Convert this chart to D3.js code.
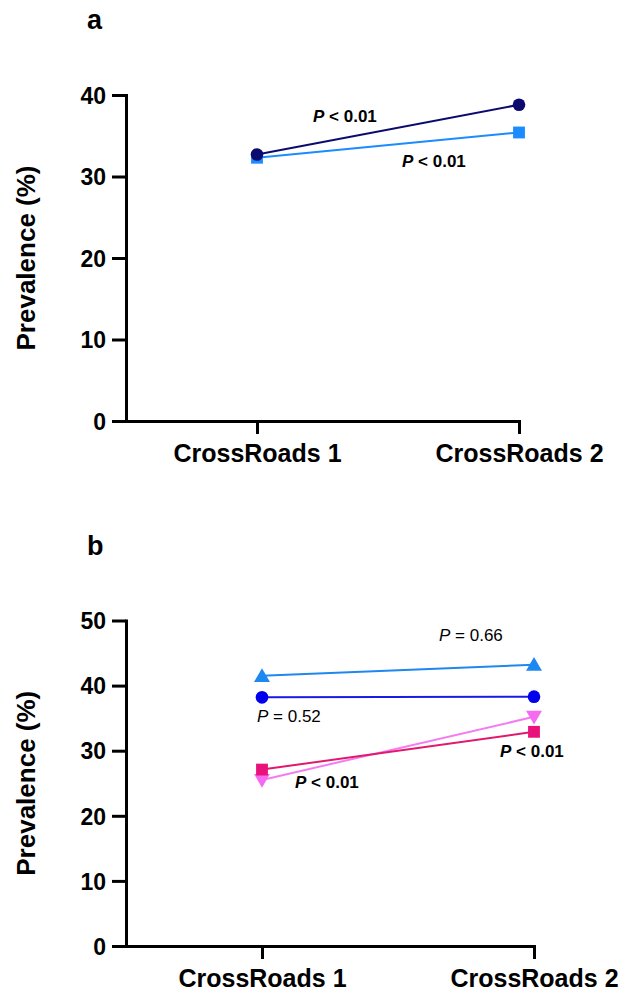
<!DOCTYPE html>
<html>
<head>
<meta charset="utf-8">
<script src="https://cdn.jsdelivr.net/npm/d3@7"></script>
<style>
  html, body { margin: 0; padding: 0; background: #fff; }
  svg { display: block; }
  text { font-family: "Liberation Sans", Arial, Helvetica, sans-serif; }
</style>
</head>
<body>
<svg id="chart" width="619" height="992"></svg>
<script>
// ---------- data ----------
const categories = ["CrossRoads 1", "CrossRoads 2"];
const panelLetters = ["a", "b"];
const yAxisTitle = "Prevalence (%)";

const ticksA = [0, 10, 20, 30, 40];
const seriesA_circle = [32.7, 38.8];   // dark navy, circles
const seriesA_square = [32.3, 35.4];   // light blue, squares
const annotA = [
  { p: "P", rest: " < 0.01", bold: true },
  { p: "P", rest: " < 0.01", bold: true }
];

const ticksB = [0, 10, 20, 30, 40, 50];
const seriesB_triangle = [41.5, 43.2]; // light blue, up triangles
const seriesB_circle   = [38.2, 38.3]; // blue, circles
const seriesB_square   = [27.1, 32.9]; // deep pink, squares
const seriesB_downTri  = [25.5, 35.2]; // violet, down triangles
const annotB = [
  { p: "P", rest: " = 0.66", bold: false },
  { p: "P", rest: " = 0.52", bold: false },
  { p: "P", rest: " < 0.01", bold: true },
  { p: "P", rest: " < 0.01", bold: true }
];

// ---------- drawing ----------
const svg = d3.select("#chart");

function drawPanel(cfg) {
  const g = svg.append("g");
  const x = d3.scaleLinear().domain([-0.5, 1]).range([cfg.left, cfg.right]);
  const y = d3.scaleLinear().domain([0, d3.max(cfg.ticks)]).range([cfg.bottom, cfg.top]);

  // y axis
  const ya = g.append("g").attr("transform", `translate(${cfg.left},0)`)
    .call(d3.axisLeft(y).tickValues(cfg.ticks).tickSize(14).tickSizeOuter(0).tickPadding(6));
  // x axis
  const xa = g.append("g").attr("transform", `translate(0,${cfg.bottom})`)
    .call(d3.axisBottom(x).tickValues([0, 1]).tickFormat(i => categories[i])
      .tickSize(13).tickSizeOuter(0).tickPadding(10));

  [ya, xa].forEach(a => {
    a.select(".domain").attr("stroke", "#000").attr("stroke-width", 3).attr("stroke-linecap", "square");
    a.selectAll(".tick line").attr("stroke", "#000").attr("stroke-width", 3);
    a.selectAll(".tick text").attr("fill", "#000").attr("font-weight", "bold")
      .attr("font-family", "'Liberation Sans', Arial, sans-serif");
  });
  ya.selectAll(".tick text").attr("font-size", 23).attr("dy", "0.36em");
  xa.selectAll(".tick text").attr("font-size", 25).attr("dy", "0.71em");

  // y title
  g.append("text")
    .attr("transform", `translate(35,${(cfg.top + cfg.bottom) / 2}) rotate(-90)`)
    .attr("text-anchor", "middle")
    .attr("font-size", 26).attr("font-weight", "bold").attr("fill", "#000")
    .text(yAxisTitle);

  // panel letter
  g.append("text").attr("x", 87).attr("y", cfg.letterY)
    .attr("font-size", 27).attr("font-weight", "bold").attr("fill", "#000")
    .text(cfg.letter);

  // series
  cfg.series.forEach(s => {
    const pts = s.values.map((v, i) => [x(i), y(v)]);
    g.append("path").attr("d", d3.line()(pts))
      .attr("fill", "none").attr("stroke", s.line).attr("stroke-width", 2);
    g.selectAll(null).data(pts).enter().append("path")
      .attr("d", d3.symbol().type(s.symbol).size(s.size)())
      .attr("transform", d => `translate(${d[0]},${d[1] + (s.dy || 0)})${s.rotate ? " rotate(180)" : ""}`)
      .attr("fill", s.color);
  });

  // annotations
  cfg.annots.forEach((a, i) => {
    const pos = cfg.annotPos[i];
    const t = g.append("text").attr("x", pos[0]).attr("y", pos[1])
      .attr("font-size", 17).attr("fill", "#000")
      .attr("font-weight", a.bold ? "bold" : "normal");
    t.append("tspan").attr("font-style", "italic").text(a.p);
    t.append("tspan").text(a.rest);
  });
}

drawPanel({
  letter: panelLetters[0], letterY: 29,
  left: 126, right: 519, top: 95, bottom: 421,
  ticks: ticksA,
  series: [
    { values: seriesA_square, color: "#1a8cff", line: "#1a8cff", symbol: d3.symbolSquare, size: 140 },
    { values: seriesA_circle, color: "#0b0b6f", line: "#0b0b6f", symbol: d3.symbolCircle, size: 125 }
  ],
  annots: annotA,
  annotPos: [[313, 122], [402, 167]]
});

drawPanel({
  letter: panelLetters[1], letterY: 555,
  left: 126, right: 534, top: 620.5, bottom: 946,
  ticks: ticksB,
  series: [
    { values: seriesB_triangle, color: "#1e88f0", line: "#1e88f0", symbol: d3.symbolTriangle, size: 110, dy: 1.5 },
    { values: seriesB_circle, color: "#0000ee", line: "#1a1ae6", symbol: d3.symbolCircle, size: 125 },
    { values: seriesB_downTri, color: "#f56af0", line: "#f57cf0", symbol: d3.symbolTriangle, size: 110, rotate: true, dy: -1.5 },
    { values: seriesB_square, color: "#e8127a", line: "#e0196e", symbol: d3.symbolSquare, size: 140 }
  ],
  annots: annotB,
  annotPos: [[439, 641], [257, 722], [500, 757], [295, 788]]
});
</script>
</body>
</html>
